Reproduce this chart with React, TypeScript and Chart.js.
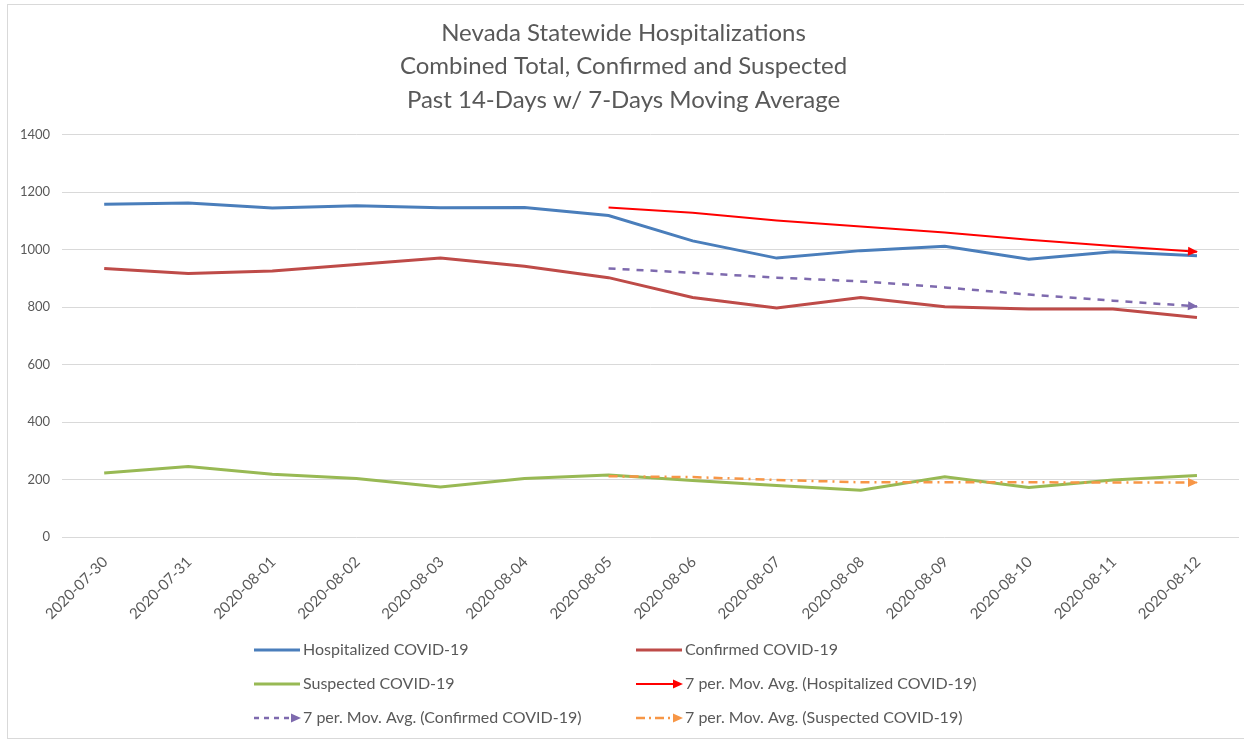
import React, { useEffect, useRef } from "react";
import { Chart, registerables } from "chart.js";
Chart.register(...registerables);

const dates = [
  "2020-07-30", "2020-07-31", "2020-08-01", "2020-08-02", "2020-08-03", "2020-08-04", "2020-08-05",
  "2020-08-06", "2020-08-07", "2020-08-08", "2020-08-09", "2020-08-10", "2020-08-11", "2020-08-12",
];
const hospitalized = [1158, 1163, 1145, 1153, 1146, 1147, 1119, 1031, 971, 997, 1012, 967, 993, 979];
const confirmed = [935, 917, 926, 949, 971, 943, 903, 834, 797, 834, 802, 794, 794, 764];
const suspected = [223, 246, 219, 204, 175, 204, 216, 197, 180, 163, 210, 173, 199, 215];
const maHospitalized = [null, null, null, null, null, null, 1147, 1129, 1102, 1081, 1060, 1035, 1013, 993];
const maConfirmed = [null, null, null, null, null, null, 935, 920, 903, 890, 869, 844, 823, 803];
const maSuspected = [null, null, null, null, null, null, 212, 209, 199, 191, 191, 191, 190, 190];
const yTicks = [0, 200, 400, 600, 800, 1000, 1200, 1400];
const titleLines = [
  "Nevada Statewide Hospitalizations",
  "Combined Total, Confirmed and Suspected",
  "Past 14-Days w/ 7-Days Moving Average",
];
const seriesNames = [
  "Hospitalized COVID-19",
  "Confirmed COVID-19",
  "Suspected COVID-19",
  "7 per. Mov. Avg. (Hospitalized COVID-19)",
  "7 per. Mov. Avg. (Confirmed COVID-19)",
  "7 per. Mov. Avg. (Suspected COVID-19)",
];

const BLUE = "#4A7EBB";
const DARKRED = "#BE4B48";
const GREEN = "#98B954";
const RED = "#FF0000";
const PURPLE = "#7E6AAE";
const ORANGE = "#F79646";
const TEXT = "#595959";
const FONT = "Lato, 'Open Sans', sans-serif";

const styles = [
  { color: BLUE, width: 3, dash: [] as number[], arrow: false },
  { color: DARKRED, width: 3, dash: [] as number[], arrow: false },
  { color: GREEN, width: 3, dash: [] as number[], arrow: false },
  { color: RED, width: 2, dash: [] as number[], arrow: true },
  { color: PURPLE, width: 2.5, dash: [7, 7], arrow: true },
  { color: ORANGE, width: 2.5, dash: [9, 5, 2, 5], arrow: true },
];

function drawArrow(ctx: CanvasRenderingContext2D, x: number, y: number, ang: number, color: string) {
  const len = 10;
  const half = 4.5;
  ctx.save();
  ctx.translate(x, y);
  ctx.rotate(ang);
  ctx.fillStyle = color;
  ctx.beginPath();
  ctx.moveTo(1, 0);
  ctx.lineTo(1 - len, -half);
  ctx.lineTo(1 - len, half);
  ctx.closePath();
  ctx.fill();
  ctx.restore();
}

const framePlugin = {
  id: "frame",
  beforeDraw(chart: any) {
    const ctx = chart.ctx;
    ctx.save();
    ctx.fillStyle = "#ffffff";
    ctx.fillRect(0, 0, chart.width, chart.height);
    ctx.strokeStyle = "#d9d9d9";
    ctx.lineWidth = 1;
    ctx.strokeRect(7.5, 4.5, chart.width + 10, chart.height - 6);
    ctx.restore();
  },
};

const arrowPlugin = {
  id: "arrows",
  afterDatasetsDraw(chart: any) {
    const ctx = chart.ctx;
    chart.data.datasets.forEach((ds: any, i: number) => {
      if (!styles[i].arrow) return;
      const meta = chart.getDatasetMeta(i);
      const pts = meta.data;
      const n = pts.length;
      const a = pts[n - 2];
      const b = pts[n - 1];
      const ang = Math.atan2(b.y - a.y, b.x - a.x);
      drawArrow(ctx, b.x, b.y, ang, styles[i].color);
    });
  },
};

const legendPlugin = {
  id: "customLegend",
  afterDraw(chart: any) {
    const ctx = chart.ctx;
    const cols = [254, 636];
    const rows = [650, 684, 718];
    ctx.save();
    ctx.font = `16px ${FONT}`;
    ctx.textBaseline = "middle";
    ctx.fillStyle = TEXT;
    seriesNames.forEach((name, i) => {
      const x = cols[i % 2];
      const y = rows[Math.floor(i / 2)];
      const st = styles[i];
      ctx.save();
      ctx.strokeStyle = st.color;
      ctx.lineWidth = st.width;
      const endX = st.arrow ? x + 38 : x + 46;
      ctx.setLineDash(i === 4 ? [5, 5] : i === 5 ? [9, 4, 2, 4] : []);
      ctx.beginPath();
      ctx.moveTo(x, y);
      ctx.lineTo(endX, y);
      ctx.stroke();
      ctx.restore();
      if (st.arrow) drawArrow(ctx, x + 46, y, 0, st.color);
      ctx.fillStyle = TEXT;
      ctx.fillText(name, x + 49, y);
    });
    ctx.restore();
  },
};

export default function App() {
  const ref = useRef<HTMLCanvasElement>(null);
  useEffect(() => {
    document.body.style.margin = "0";
    const canvas = ref.current!;
    const data = [hospitalized, confirmed, suspected, maHospitalized, maConfirmed, maSuspected];
    const chart = new Chart(canvas, {
      type: "line",
      data: {
        labels: dates,
        datasets: seriesNames.map((name, i) => ({
          label: name,
          data: data[i] as any,
          borderColor: styles[i].color,
          backgroundColor: styles[i].color,
          borderWidth: styles[i].width,
          borderDash: styles[i].dash,
          pointRadius: 0,
          pointHoverRadius: 0,
          tension: 0,
          fill: false,
          spanGaps: false,
          order: i >= 3 ? 0 : 1,
        })),
      },
      options: {
        responsive: false,
        animation: false,
        layout: { padding: { top: 0, left: 8, right: 5, bottom: 109 } },
        plugins: {
          legend: { display: false },
          tooltip: { enabled: false },
          title: {
            display: true,
            text: titleLines,
            color: TEXT,
            font: { family: FONT, size: 24, weight: "normal", lineHeight: 1.4 },
            padding: { top: 16, bottom: 18 },
          },
        },
        scales: {
          x: {
            offset: true,
            grid: { display: false },
            border: { display: false },
            ticks: {
              color: TEXT,
              font: { family: FONT, size: 15 },
              minRotation: 45,
              maxRotation: 45,
              padding: 8,
              labelOffset: 1,
              autoSkip: false,
            },
          },
          y: {
            min: 0,
            max: 1400,
            afterBuildTicks(scale: any) {
              scale.ticks = yTicks.map((v) => ({ value: v }));
            },
            grid: { color: "#d9d9d9", lineWidth: 1, drawTicks: false },
            border: { display: false },
            ticks: {
              color: TEXT,
              font: { family: FONT, size: 13 },
              padding: 12,
              callback: (v: any) => String(v),
            },
          },
        },
      },
      plugins: [framePlugin, arrowPlugin, legendPlugin],
    } as any);
    return () => chart.destroy();
  }, []);
  return <canvas ref={ref} width={1244} height={740} style={{ display: "block" }} />;
}
